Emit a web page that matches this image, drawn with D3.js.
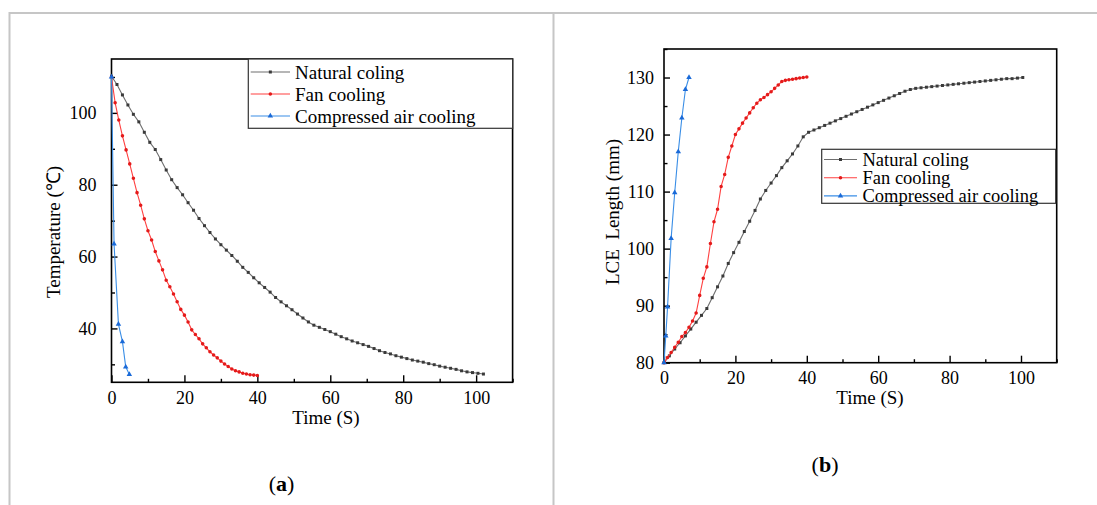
<!DOCTYPE html>
<html>
<head>
<meta charset="utf-8">
<script src="https://cdn.jsdelivr.net/npm/d3@7"></script>
<style>
  body { margin: 0; background: #fff; }
  svg { display: block; }
  svg text { font-family: "Liberation Serif", "Times New Roman", serif; }
</style>
</head>
<body>
<svg id="chart" width="1097" height="505"></svg>
<script>
// (a) temperature vs time
const naturalTimeA = [0, 1.5, 3, 4.5, 6, 7.5, 9, 10.5, 12, 13.5, 15, 16.5, 18, 19.5, 21, 22.5, 24, 25.5, 27, 28.5,
  30, 31.5, 33, 34.5, 36, 37.5, 39, 40.5, 42, 43.5, 45, 46.5, 48, 49.5, 51, 52.5, 54, 55.5, 57, 58.5,
  60, 61.5, 63, 64.5, 66, 67.5, 69, 70.5, 72, 73.5, 75, 76.5, 78, 79.5, 81, 82.5, 84, 85.5, 87, 88.5,
  90, 91.5, 93, 94.5, 96, 97.5, 99, 100.5, 102];
const naturalTempA = [110.2, 107.9, 105, 102.2, 99.6, 97.5, 94.6, 91.8, 89.8, 87, 84.1, 81.4, 79.2, 77.2, 75, 72.9, 70.6, 68.6, 66.7, 64.9,
  63.3, 61.8, 60.3, 58.7, 57, 55.6, 54.1, 52.7, 51.4, 50.1, 48.6, 47.4, 46.3, 45.2, 44, 42.9, 41.8, 40.9, 40.3, 39.7,
  39.1, 38.4, 37.7, 37.1, 36.5, 36, 35.5, 35, 34.4, 33.8, 33.3, 32.9, 32.4, 32, 31.6, 31.2, 30.9, 30.6, 30.2, 29.9,
  29.5, 29.2, 28.9, 28.6, 28.2, 27.9, 27.7, 27.5, 27.3];
const fanTimeA = [0, 1, 2, 3, 4, 5, 6, 7, 8, 9, 10, 11, 12, 13, 14, 15, 16, 17, 18, 19, 20,
  21, 22, 23, 24, 25, 26, 27, 28, 29, 30, 31, 32, 33, 34, 35, 36, 37, 38, 39, 40];
const fanTempA = [110, 102.8, 98, 93.6, 89.7, 85.8, 81.8, 77.8, 74.3, 70.5, 67.2, 64.6, 61.4, 58.8, 56.3, 53.4, 51.6, 49.6, 47.4, 45.3, 43.7,
  41.8, 39.6, 38.3, 37.1, 35.7, 34.6, 33.5, 32.6, 31.8, 30.9, 30.1, 29.4, 28.7, 28.2, 27.9, 27.5, 27.3, 27.1, 27, 26.9];
const airTimeA = [0, 0.7, 1.9, 3, 3.9, 4.9];
const airTempA = [110, 63.5, 41.2, 36.3, 29.3, 27.2];

// (b) LCE length vs time
const naturalTimeB = [0, 1.5, 3, 4.5, 6, 7.5, 9, 10.5, 12, 13.5, 15, 16.5, 18, 19.5, 21, 22.5, 24, 25.5, 27, 28.5,
  30, 31.5, 33, 34.5, 36, 37.5, 39, 40.5, 42, 43.5, 45, 46.5, 48, 49.5, 51, 52.5, 54, 55.5, 57, 58.5,
  60, 61.5, 63, 64.5, 66, 67.5, 69, 70.5, 72, 73.5, 75, 76.5, 78, 79.5, 81, 82.5, 84, 85.5, 87, 88.5,
  90, 91.5, 93, 94.5, 96, 97.5, 99, 100.5];
const naturalLenB = [80, 81.2, 82.4, 83.5, 84.7, 85.9, 87.1, 88.3, 89.5, 91.4, 93.3, 95.2, 97.4, 99.3, 101.1, 103, 104.8, 106.7, 108.7, 110.2,
  111.5, 112.8, 114.2, 115.4, 116.6, 118, 119.6, 120.4, 120.8, 121.2, 121.6, 122, 122.4, 122.8, 123.2, 123.6, 124, 124.4, 124.8, 125.2,
  125.6, 126, 126.4, 126.8, 127.2, 127.6, 127.9, 128.1, 128.2, 128.3, 128.4, 128.5, 128.6, 128.7, 128.8, 128.9, 129, 129.1, 129.2, 129.3,
  129.4, 129.5, 129.6, 129.7, 129.8, 129.8, 129.9, 130];
const fanTimeB = [0, 1, 2, 3, 4, 5, 6, 7, 8, 9, 10, 11, 12, 13, 14, 15, 16, 17, 18, 19, 20,
  21, 22, 23, 24, 25, 26, 27, 28, 29, 30, 31, 32, 33, 34, 35, 36, 37, 38, 39, 40];
const fanLenB = [80, 80.9, 81.8, 82.7, 83.6, 84.6, 85.3, 86.2, 87.3, 88.7, 91.8, 94.8, 96.8, 100.9, 104.7, 106.9, 110.9, 113, 116, 118, 120,
  121, 122, 122.9, 123.8, 124.7, 125.5, 126.1, 126.5, 127, 127.5, 128.1, 128.7, 129.3, 129.5, 129.6, 129.7, 129.8, 129.9, 130, 130.1];
const airTimeB = [0, 0.5, 1, 2, 3, 4, 5, 6, 7];
const airLenB = [80, 84.7, 89.8, 101.8, 109.8, 117, 122.9, 127.9, 130];

const seriesNames = ['Natural coling', 'Fan cooling', 'Compressed air cooling'];
const lineColors = ['#6e6e6e', '#ff4040', '#3a8ee6'];
const markerColors = ['#3a3a3a', '#e41a1a', '#1a6ad8'];
const markerShapes = [d3.symbolSquare, d3.symbolCircle, d3.symbolTriangle];
const markerSizes = [9, 10, 13];

const timeMajor = [0, 20, 40, 60, 80, 100];
const timeMinor = [10, 30, 50, 70, 90, 110];
const tempMajor = [40, 60, 80, 100];
const tempMinor = [30, 50, 70, 90, 110];
const lenMajor = [80, 90, 100, 110, 120, 130];
const lenMinor = [85, 95, 105, 115, 125, 135];

const serif = '"Liberation Serif", "Times New Roman", serif';
const svg = d3.select('#chart');

// grey page frame
svg.append('path')
  .attr('d', 'M9.5,505V13H1097M553.5,13V505')
  .attr('fill', 'none')
  .attr('stroke', '#c6c6c6')
  .attr('stroke-width', 2);

const drawPanel = (p) => {
  const x = d3.scaleLinear().domain(p.xDomain).range([p.left, p.right]);
  const y = d3.scaleLinear().domain(p.yDomain).range([p.bottom, p.top]);
  const g = svg.append('g').attr('font-family', serif);

  const styleAxis = ax => {
    ax.select('.domain').remove();
    ax.selectAll('line').attr('stroke', '#000').attr('stroke-width', 1.4);
    ax.selectAll('text').attr('fill', '#000').attr('font-family', serif);
    ax.attr('font-size', 18).attr('font-family', serif);
  };

  g.append('g')
    .attr('transform', `translate(0,${p.bottom})`)
    .call(d3.axisBottom(x).tickValues(timeMajor).tickSize(-7).tickSizeOuter(0).tickPadding(p.xPad))
    .call(styleAxis);
  g.append('g')
    .attr('transform', `translate(0,${p.bottom})`)
    .call(d3.axisBottom(x).tickValues(timeMinor).tickSize(-3.5).tickSizeOuter(0).tickFormat(''))
    .call(styleAxis);
  g.append('g')
    .attr('transform', `translate(${p.left},0)`)
    .call(d3.axisLeft(y).tickValues(p.yMajor).tickSize(-6).tickSizeOuter(0).tickPadding(p.yPad))
    .call(styleAxis);
  g.append('g')
    .attr('transform', `translate(${p.left},0)`)
    .call(d3.axisLeft(y).tickValues(p.yMinor).tickSize(-3.5).tickSizeOuter(0).tickFormat(''))
    .call(styleAxis);

  g.append('rect')
    .attr('x', p.left).attr('y', p.top)
    .attr('width', p.right - p.left).attr('height', p.bottom - p.top)
    .attr('fill', 'none').attr('stroke', '#000').attr('stroke-width', 1.6);

  const line = d3.line().x(d => x(d[0])).y(d => y(d[1]));

  p.series.forEach((s, i) => {
    const pts = d3.zip(s[0], s[1]);
    g.append('path')
      .datum(pts)
      .attr('d', line)
      .attr('fill', 'none')
      .attr('stroke', lineColors[i])
      .attr('stroke-width', 1.1);
    g.append('g')
      .selectAll('path')
      .data(pts)
      .join('path')
        .attr('transform', d => `translate(${x(d[0])},${y(d[1])})`)
        .attr('d', d3.symbol().type(markerShapes[i]).size(markerSizes[i]))
        .attr('fill', markerColors[i]);
  });

  // legend
  const lg = p.legend;
  g.append('rect')
    .attr('x', lg.x).attr('y', lg.y)
    .attr('width', lg.w).attr('height', lg.h)
    .attr('fill', '#fff').attr('stroke', '#333').attr('stroke-width', 1.2);
  seriesNames.forEach((name, i) => {
    const ry = lg.rowY + i * lg.rowGap;
    g.append('line')
      .attr('x1', lg.lineX1).attr('x2', lg.lineX2)
      .attr('y1', ry).attr('y2', ry)
      .attr('stroke', lineColors[i]).attr('stroke-width', 1.1);
    g.append('path')
      .attr('transform', `translate(${(lg.lineX1 + lg.lineX2) / 2},${ry})`)
      .attr('d', d3.symbol().type(markerShapes[i]).size(markerSizes[i]))
      .attr('fill', markerColors[i]);
    g.append('text')
      .attr('x', lg.textX).attr('y', ry)
      .attr('dy', '0.35em')
      .attr('font-size', lg.fontSize)
      .text(name);
  });

  // titles
  g.append('text')
    .attr('x', p.xTitleX).attr('y', p.bottom + 41.5)
    .attr('text-anchor', 'middle')
    .attr('font-size', 19)
    .text('Time (S)');
  g.append('text')
    .attr('transform', `translate(${p.yTitleX},${p.yTitleY}) rotate(-90)`)
    .attr('text-anchor', 'middle')
    .attr('dy', '0.35em')
    .attr('font-size', 19)
    .style('white-space', 'pre')
    .text(p.yTitle);

  const cap = g.append('text')
    .attr('x', p.capX).attr('y', p.capY)
    .attr('text-anchor', 'middle')
    .attr('dy', '0.35em')
    .attr('font-size', 22);
  cap.append('tspan').text('(');
  cap.append('tspan').attr('font-weight', 700).text(p.cap);
  cap.append('tspan').text(')');
};

drawPanel({
  left: 111.5, right: 512.6, top: 59, bottom: 382.3,
  xDomain: [0, 110], yDomain: [25, 115],
  yMajor: tempMajor, yMinor: tempMinor,
  xPad: 9, yPad: 15,
  series: [[naturalTimeA, naturalTempA], [fanTimeA, fanTempA], [airTimeA, airTempA]],
  legend: { x: 248.3, y: 59, w: 264.3, h: 69.3, rowY: 72, rowGap: 22, lineX1: 250.7, lineX2: 290, textX: 295, fontSize: 19 },
  xTitleX: 326, yTitleX: 53, yTitleY: 232, yTitle: 'Temperature (℃)',
  capX: 281.5, capY: 483.6, cap: 'a'
});

drawPanel({
  left: 664, right: 1056.7, top: 49, bottom: 362.7,
  xDomain: [0, 110], yDomain: [80, 135],
  yMajor: lenMajor, yMinor: lenMinor,
  xPad: 9, yPad: 10,
  series: [[naturalTimeB, naturalLenB], [fanTimeB, fanLenB], [airTimeB, airLenB]],
  legend: { x: 821.7, y: 149.3, w: 234, h: 54, rowY: 159.5, rowGap: 18.2, lineX1: 824, lineX2: 857, textX: 862.5, fontSize: 18.5 },
  xTitleX: 870, yTitleX: 612, yTitleY: 212, yTitle: 'LCE  Length (mm)',
  capX: 825, capY: 464.5, cap: 'b'
});
</script>
</body>
</html>
